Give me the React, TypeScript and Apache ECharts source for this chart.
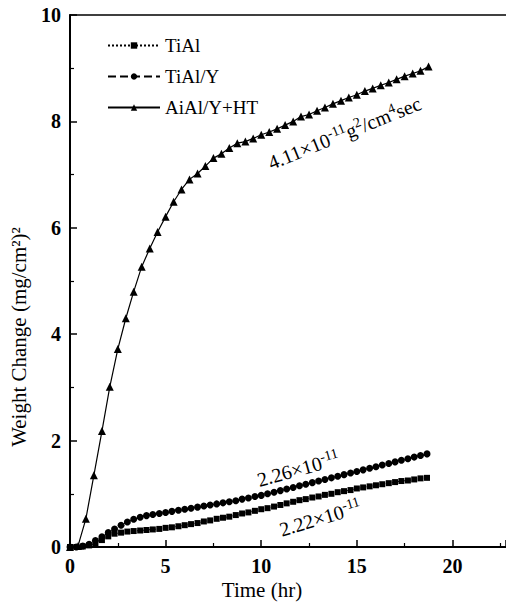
import React, { useEffect, useRef } from "react";
import * as echarts from "echarts";

// Time (hr) for the TiAl and TiAl/Y measurements
const timeLow = [
  0.0, 0.33, 0.67, 1.0, 1.33, 1.67, 2.0, 2.33, 2.67, 3.0, 3.33, 3.67, 4.0, 4.33, 4.67,
  5.0, 5.33, 5.67, 6.0, 6.33, 6.67, 7.0, 7.33, 7.67, 8.0, 8.33, 8.67, 9.0, 9.33, 9.67,
  10.0, 10.33, 10.67, 11.0, 11.33, 11.67, 12.0, 12.33, 12.67, 13.0, 13.33, 13.67, 14.0,
  14.33, 14.67, 15.0, 15.33, 15.67, 16.0, 16.33, 16.67, 17.0, 17.33, 17.67, 18.0, 18.33, 18.67,
];
// TiAl (squares)
const tialValues = [
  0.0, 0.0, 0.01, 0.03, 0.07, 0.13, 0.2, 0.25, 0.27, 0.29, 0.3, 0.31, 0.32, 0.33, 0.34,
  0.36, 0.37, 0.39, 0.41, 0.43, 0.45, 0.48, 0.5, 0.53, 0.55, 0.57, 0.6, 0.63, 0.65, 0.68,
  0.71, 0.73, 0.76, 0.79, 0.82, 0.85, 0.88, 0.9, 0.93, 0.95, 0.98, 1.0, 1.03,
  1.05, 1.07, 1.1, 1.12, 1.14, 1.16, 1.18, 1.2, 1.22, 1.24, 1.25, 1.27, 1.29, 1.3,
];
// TiAl/Y (circles)
const tialYValues = [
  0.0, 0.0, 0.02, 0.05, 0.12, 0.19, 0.27, 0.34, 0.41, 0.47, 0.52, 0.56, 0.59, 0.61, 0.63,
  0.65, 0.67, 0.69, 0.71, 0.73, 0.75, 0.77, 0.79, 0.81, 0.83, 0.85, 0.87, 0.9, 0.92, 0.95,
  0.97, 1.0, 1.03, 1.06, 1.09, 1.12, 1.15, 1.18, 1.21, 1.24, 1.27, 1.3, 1.33,
  1.36, 1.39, 1.42, 1.45, 1.48, 1.51, 1.54, 1.57, 1.6, 1.63, 1.66, 1.69, 1.72, 1.75,
];
// Time (hr) for AiAl/Y+HT
const timeHT = [
  0.0, 0.42, 0.83, 1.25, 1.67, 2.08, 2.5, 2.92, 3.33, 3.75, 4.17, 4.58, 5.0, 5.42, 5.83,
  6.25, 6.67, 7.08, 7.5, 7.92, 8.33, 8.75, 9.17, 9.58, 10.0, 10.42, 10.83, 11.25, 11.67,
  12.08, 12.5, 12.92, 13.33, 13.75, 14.17, 14.58, 15.0, 15.42, 15.83, 16.25, 16.67, 17.08,
  17.5, 17.92, 18.33, 18.75,
];
// AiAl/Y+HT (triangles)
const htValues = [
  0.0, 0.02, 0.53, 1.35, 2.18, 3.01, 3.72, 4.3, 4.8, 5.27, 5.61, 5.92, 6.21, 6.49, 6.72,
  6.91, 7.02, 7.16, 7.31, 7.39, 7.5, 7.59, 7.62, 7.68, 7.75, 7.8, 7.86, 7.93, 8.0,
  8.09, 8.13, 8.2, 8.26, 8.33, 8.39, 8.45, 8.5, 8.57, 8.62, 8.68, 8.73, 8.79,
  8.85, 8.9, 8.95, 9.03,
];

const seriesNames = ["TiAl", "TiAl/Y", "AiAl/Y+HT"];
const xTicks = { min: 0, max: 22.8, interval: 5 };
const yTicks = { min: 0, max: 10, interval: 2 };
const xTitle = "Time (hr)";
const yTitle = "Weight Change (mg/cm²)²";
// rate annotations as rich text: {n|normal} {s|superscript}
const rateLabels = [
  "{n|4.11×10}{s|-11}{n|g}{s|2}{n|/cm}{s|4}{n|sec}",
  "{n|2.26×10}{s|-11}",
  "{n|2.22×10}{s|-11}",
];

const FONT = "'Liberation Serif', 'DejaVu Serif', serif";

const pair = (xs: number[], ys: number[]) => xs.map((x, i) => [x, ys[i]]);

const rich = {
  n: { fontFamily: FONT, fontSize: 20, lineHeight: 22, verticalAlign: "bottom", fill: "#000" },
  s: { fontFamily: FONT, fontSize: 14, lineHeight: 16, verticalAlign: "top", fill: "#000" },
};

export default function App() {
  const ref = useRef<HTMLDivElement>(null);
  useEffect(() => {
    if (!ref.current) return;
    const chart = echarts.init(ref.current, undefined, { renderer: "svg" });
    const axisCommon = {
      type: "value" as const,
      axisLine: { show: true, lineStyle: { color: "#000", width: 2 } },
      axisTick: { show: true, inside: true, length: 7, lineStyle: { color: "#000", width: 1.5 } },
      minorTick: { show: true, splitNumber: 2, length: 4, lineStyle: { color: "#000", width: 1.2 } },
      splitLine: { show: false },
      axisLabel: { color: "#000", fontFamily: FONT, fontSize: 20, fontWeight: "bold" as const },
    };
    const rateText = (text: string, x: number, y: number, rot: number) => ({
      type: "text",
      x,
      y,
      rotation: rot,
      style: { text, rich, fill: "#000", align: "center", verticalAlign: "middle" },
    });
    chart.setOption({
      animation: false,
      backgroundColor: "#fff",
      grid: { left: 70, right: 0, top: 15, bottom: 58, containLabel: false },
      legend: {
        orient: "vertical",
        left: 102,
        top: 31,
        itemWidth: 52,
        itemHeight: 8,
        itemGap: 12,
        data: seriesNames,
        textStyle: { color: "#000", fontFamily: FONT, fontSize: 19 },
      },
      xAxis: [
        {
          ...axisCommon,
          min: xTicks.min,
          max: xTicks.max,
          interval: xTicks.interval,
          axisLabel: { ...axisCommon.axisLabel, showMaxLabel: false, margin: 9 },
        },
        {
          type: "value",
          position: "top",
          min: xTicks.min,
          max: xTicks.max,
          axisLine: { show: true, lineStyle: { color: "#000", width: 1.5 } },
          axisTick: { show: false },
          axisLabel: { show: false },
          splitLine: { show: false },
        },
      ],
      yAxis: {
        ...axisCommon,
        min: yTicks.min,
        max: yTicks.max,
        interval: yTicks.interval,
        axisLabel: { ...axisCommon.axisLabel, margin: 9 },
      },
      series: [
        {
          name: seriesNames[0],
          type: "line",
          data: pair(timeLow, tialValues),
          symbol: "rect",
          symbolSize: 6,
          lineStyle: { color: "#000", width: 1, type: "dotted" },
          itemStyle: { color: "#000" },
        },
        {
          name: seriesNames[1],
          type: "line",
          data: pair(timeLow, tialYValues),
          symbol: "circle",
          symbolSize: 7,
          lineStyle: { color: "#000", width: 1, type: "dashed" },
          itemStyle: { color: "#000" },
        },
        {
          name: seriesNames[2],
          type: "line",
          data: pair(timeHT, htValues),
          symbol: "triangle",
          symbolSize: 8,
          lineStyle: { color: "#000", width: 1.2, type: "solid" },
          itemStyle: { color: "#000" },
        },
      ],
      graphic: [
        {
          type: "text",
          x: 262,
          y: 590,
          style: { text: xTitle, fill: "#000", font: `21px ${FONT}`, align: "center", verticalAlign: "middle" },
        },
        {
          type: "text",
          x: 19,
          y: 337,
          rotation: Math.PI / 2,
          style: { text: yTitle, fill: "#000", font: `21px ${FONT}`, align: "center", verticalAlign: "middle" },
        },
        rateText(rateLabels[0], 344, 132, 0.384),
        rateText(rateLabels[1], 298, 468, 0.27),
        rateText(rateLabels[2], 320, 517, 0.29),
      ],
    });
    return () => chart.dispose();
  }, []);
  return <div ref={ref} style={{ width: 506, height: 605, position: "absolute", left: 0, top: 0 }} />;
}
